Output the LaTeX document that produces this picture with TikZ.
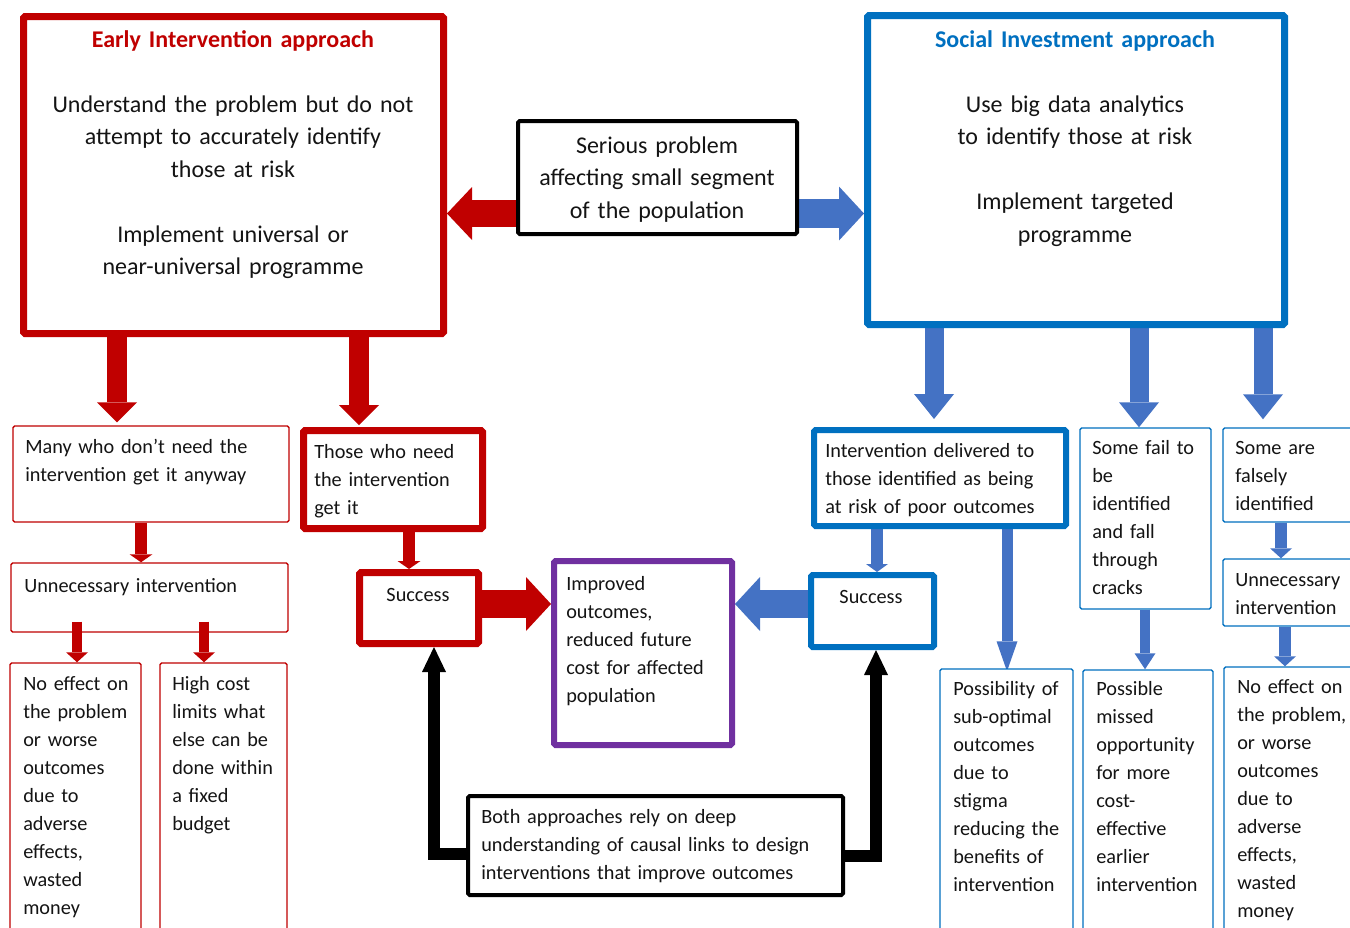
\documentclass[tikz,border=0pt]{standalone}
\usepackage{fontspec}
\setmainfont{Carlito}
\usetikzlibrary{arrows.meta,calc}
\definecolor{eired}{RGB}{192,0,0}
\definecolor{siblue}{RGB}{0,112,192}
\definecolor{arblue}{RGB}{68,114,196}
\definecolor{purp}{RGB}{112,48,160}
\definecolor{txt}{RGB}{20,20,20}
\pgfdeclarelayer{back}
\pgfdeclarelayer{arr}
\pgfsetlayers{back,arr,main}
\tikzset{
  box/.style={draw, fill=white, rounded corners=1.2pt, inner sep=0pt},
  thickred/.style={box, draw=eired, line width=5.25pt},
  thinred/.style={box, draw=eired, line width=1.1pt},
  thickblue/.style={box, draw=siblue, line width=4.5pt},
  thinblue/.style={box, draw=siblue, line width=1.1pt},
  blackbox/.style={box, draw=black, line width=3pt},
  purplebox/.style={box, draw=purp, line width=4.5pt},
  bigtxt/.style={font=\fontsize{18}{24.4}\selectfont, text=txt, text width=420pt, align=center, inner sep=0pt, anchor=base},
  smtxt/.style={font=\fontsize{15.2}{21}\selectfont, text=txt, text width=300pt, align=left, inner sep=0pt, anchor=base west},
  smctxt/.style={smtxt, align=center, anchor=base},
  arr/.style n args={3}{line width=#1, -{Triangle[width=#2,length=#3,line width=0pt]}},
}
\begin{document}
\begin{tikzpicture}[x=0.75pt,y=-0.75pt]
\useasboundingbox (0,0) rectangle (1350,928);
\begin{pgfonlayer}{back}
\fill[white] (0,0) rectangle (1350,928);
\end{pgfonlayer}

% ---------- boxes ----------
\node[thickred, minimum width=315pt, minimum height=237.75pt] (ei) at (233.5,175) {};
\node[blackbox, minimum width=209.25pt, minimum height=84.75pt] (serious) at (657.5,177.5) {};
\node[thickblue, line width=5.25pt, minimum width=312.75pt, minimum height=231.75pt] (si) at (1076,170) {};
\node[thinred, minimum width=207pt, minimum height=72pt] (many) at (151,474) {};
\node[thickred, minimum width=134.25pt, minimum height=73.5pt] (those) at (393,479.5) {};
\node[thinred, minimum width=207.75pt, minimum height=51.75pt] (unnl) at (149.5,597.5) {};
\node[thinred, minimum width=98.25pt, minimum height=207pt] (noeffl) at (75.5,801) {};
\node[thinred, minimum width=95.25pt, minimum height=207pt] (highcost) at (223.5,801) {};
\node[thickred, minimum width=89.25pt, minimum height=53.25pt] (succr) at (419,608) {};
\node[purplebox, minimum width=133.5pt, minimum height=138pt] (improved) at (643,653) {};
\node[thickblue, minimum width=92.25pt, minimum height=54pt] (succb) at (872.5,611) {};
\node[blackbox, minimum width=281.25pt, minimum height=74.25pt] (both) at (655.5,845.5) {};
\node[thickblue, minimum width=189pt, minimum height=72pt] (interv) at (940,478) {};
\node[thinblue, minimum width=98.25pt, minimum height=135.75pt] (somefail) at (1145.5,518.5) {};
\node[thinblue, minimum width=102pt, minimum height=70.5pt] (falsely) at (1291,475) {};
\node[thinblue, minimum width=102pt, minimum height=50.25pt] (unnr) at (1291,592.5) {};
\node[thinblue, minimum width=99.75pt, minimum height=202.5pt] (possib) at (1006.5,804) {};
\node[thinblue, minimum width=97.5pt, minimum height=201.75pt] (missed) at (1148,804.5) {};
\node[thinblue, minimum width=101.25pt, minimum height=204pt] (noeffr) at (1291.5,803) {};

% ---------- texts ----------
\node[bigtxt, text=eired, font=\fontsize{18}{24.4}\selectfont\bfseries] (t-eititle) at (233,47) {Early Intervention approach};
\node[bigtxt] (t-ei) at (233,112) {Understand the problem but do not\\attempt to accurately identify\\those at risk\\[24.4pt]Implement universal or\\near-universal programme};
\node[bigtxt] (t-serious) at (657,153) {Serious problem\\affecting small segment\\of the population};
\node[bigtxt, text=siblue, font=\fontsize{18}{24.4}\selectfont\bfseries] (t-sititle) at (1075,47) {Social Investment approach};
\node[bigtxt] (t-si) at (1075,112) {Use big data analytics\\to identify those at risk\\[24.4pt]Implement targeted\\programme};
\node[smtxt] (t-many) at (25,453) {Many who don’t need the\\intervention get it anyway};
\node[smtxt] (t-those) at (314,458) {Those who need\\the intervention\\get it};
\node[smtxt] (t-unnl) at (24,592) {Unnecessary intervention};
\node[smtxt] (t-noeffl) at (23,690) {No effect on\\the problem\\or worse\\outcomes\\due to\\adverse\\effects,\\wasted\\money};
\node[smtxt] (t-highcost) at (172,690) {High cost\\limits what\\else can be\\done within\\a fixed\\budget};
\node[smctxt] (t-succr) at (418,601) {Success};
\node[smtxt] (t-improved) at (566,590) {Improved\\outcomes,\\reduced future\\cost for affected\\population};
\node[smctxt] (t-succb) at (871,603) {Success};
\node[smtxt] (t-both) at (481,823) {Both approaches rely on deep\\understanding of causal links to design\\interventions that improve outcomes};
\node[smtxt] (t-interv) at (825,457) {Intervention delivered to\\those identified as being\\at risk of poor outcomes};
\node[smtxt] (t-somefail) at (1092,454) {Some fail to\\be\\identified\\and fall\\through\\cracks};
\node[smtxt] (t-falsely) at (1235,454) {Some are\\falsely\\identified};
\node[smtxt] (t-unnr) at (1235,586) {Unnecessary\\intervention};
\node[smtxt] (t-possib) at (953,695) {Possibility of\\sub-optimal\\outcomes\\due to\\stigma\\reducing the\\benefits of\\intervention};
\node[smtxt] (t-missed) at (1096,695) {Possible\\missed\\opportunity\\for more\\cost-\\effective\\earlier\\intervention};
\node[smtxt] (t-noeffr) at (1237,693) {No effect on\\the problem,\\or worse\\outcomes\\due to\\adverse\\effects,\\wasted\\money};

% ---------- x positions of vertical connectors ----------
\coordinate (c117) at (117,0);
\coordinate (c359) at (359,0);
\coordinate (c141) at (141,0);
\coordinate (c409) at (409,0);
\coordinate (c77) at (77,0);
\coordinate (c204) at (204,0);
\coordinate (c934) at (934,0);
\coordinate (c1139) at (1139,0);
\coordinate (c1263) at (1263,0);
\coordinate (c877) at (877,0);
\coordinate (c1007) at (1007,0);
\coordinate (c1145) at (1145,0);
\coordinate (c1281) at (1281,0);
\coordinate (c1285) at (1285,0);
\coordinate (c434) at (434,0);
\coordinate (c876) at (876,0);

% ---------- connectors (behind boxes) ----------
\begin{pgfonlayer}{arr}
\draw[draw=eired, arr={20.25pt}{39.75pt}{18.75pt}] ([yshift=-27pt]serious.west) -- ([yshift=-27pt]serious.west -| ei.east);
\draw[draw=arblue, arr={21.75pt}{40.5pt}{18.75pt}] ([yshift=-27pt]serious.east) -- ([yshift=-27pt]serious.east -| si.west);
\draw[draw=eired, arr={15pt}{30pt}{15pt}] (ei.south -| c117) -- ($(many.north -| c117)+(0,-3)$);
\draw[draw=eired, arr={15pt}{30pt}{15pt}] (ei.south -| c359) -- ($(those.north -| c359)+(0,-2)$);
\draw[draw=eired, arr={9pt}{17.25pt}{6pt}] (many.south -| c141) -- (unnl.north -| c141);
\draw[draw=eired, arr={9pt}{17.25pt}{6pt}] (those.south -| c409) -- (succr.north -| c409);
\draw[draw=eired, arr={21pt}{40.5pt}{18.75pt}] ([yshift=3pt]succr.east) -- ([yshift=3pt]succr.east -| improved.west);
\draw[draw=arblue, arr={21pt}{40.5pt}{18.75pt}] ([yshift=5.25pt]succb.west) -- ([yshift=5.25pt]succb.west -| improved.east);
\draw[draw=arblue, arr={14.25pt}{30pt}{18.75pt}] (si.south -| c934) -- ($(interv.north -| c934)+(0,-8)$);
\draw[draw=arblue, arr={14.25pt}{30pt}{18.75pt}] (si.south -| c1139) -- (somefail.north -| c1139);
\draw[draw=arblue, arr={14.25pt}{30pt}{18.75pt}] (si.south -| c1263) -- ($(falsely.north -| c1263)+(0,-8)$);
\draw[draw=arblue, arr={9pt}{16.5pt}{6pt}] (interv.south -| c877) -- (succb.north -| c877);
\draw[draw=arblue, arr={8.25pt}{15.75pt}{22.5pt}] (interv.south -| c1007) -- ($(possib.north -| c1007)+(0,3)$);
\draw[draw=arblue, arr={7.5pt}{15.75pt}{12pt}] (somefail.south -| c1145) -- (missed.north -| c1145);
\draw[draw=arblue, arr={9pt}{16.5pt}{7.5pt}] (falsely.south -| c1281) -- (unnr.north -| c1281);
\draw[draw=arblue, arr={9pt}{16.5pt}{7.5pt}] (unnr.south -| c1285) -- (noeffr.north -| c1285);
\draw[draw=black, line join=miter, arr={9pt}{18pt}{18.75pt}] ([yshift=-6.4pt]both.west) -| (succr.south -| c434);
\draw[draw=black, line join=miter, arr={9pt}{18pt}{18.75pt}] ([yshift=-7.5pt]both.east) -| (succb.south -| c876);
\end{pgfonlayer}

% ---------- connectors drawn over their source box ----------
\draw[draw=eired, arr={7.5pt}{16.5pt}{7.5pt}] ($(unnl.south -| c77)+(0,-11)$) -- (noeffl.north -| c77);
\draw[draw=eired, arr={7.5pt}{16.5pt}{7.5pt}] ($(unnl.south -| c204)+(0,-11)$) -- (highcost.north -| c204);
\end{tikzpicture}
\end{document}
